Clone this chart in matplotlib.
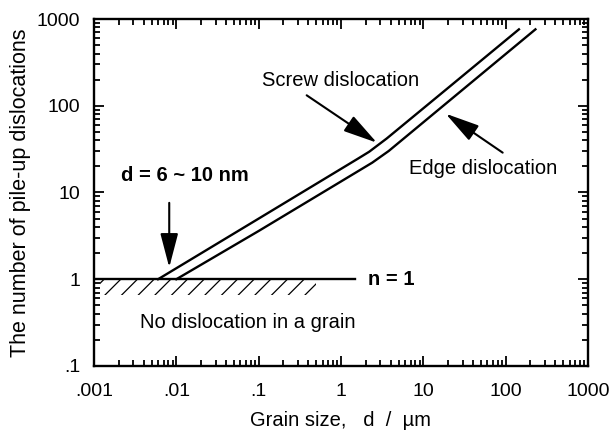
import numpy as np
import matplotlib
matplotlib.use("Agg")
import matplotlib.pyplot as plt
from matplotlib.ticker import FixedLocator, FixedFormatter, LogLocator, NullFormatter

plt.rcParams['font.family'] = ['Liberation Sans', 'DejaVu Sans']

# pile-up curves, grain size d (um) vs number of dislocations n
screw_d = [0.006, 0.1, 1.6, 2.2, 3.6, 18, 145]
screw_n = [1, 5.0, 24.5, 29.5, 42, 148, 760]
edge_d = [0.01, 0.1, 1.0, 2.4, 3.8, 230]
edge_n = [1, 3.6, 13.4, 22.1, 30.1, 760]

# n = 1 limit and the "no dislocation" band below it
limit_d = [0.001, 1.5]
limit_n = [1, 1]
band_d = [0.00118, 0.5]
band_lo = 0.65

xticks = [0.001, 0.01, 0.1, 1, 10, 100, 1000]
xlabels = ['.001', '.01', '.1', '1', '10', '100', '1000']
yticks = [0.1, 1, 10, 100, 1000]
ylabels = ['.1', '1', '10', '100', '1000']

fig = plt.figure(figsize=(6.1, 4.37), dpi=100)
ax = fig.add_axes([0.1541, 0.1625, 0.8098, 0.794])
ax.set_xscale('log')
ax.set_yscale('log')
ax.set_xlim(0.001, 1000)
ax.set_ylim(0.1, 1000)

lw = 1.7
ax.plot(screw_d, screw_n, color='black', lw=lw, solid_joinstyle='round')
ax.plot(edge_d, edge_n, color='black', lw=lw, solid_joinstyle='round')
ax.plot(limit_d, limit_n, color='black', lw=lw)

plt.rcParams['hatch.linewidth'] = 0.9
ax.fill_between(band_d, band_lo, 1, facecolor='none', edgecolor='black',
                hatch='//', linewidth=0)

head = dict(arrowstyle='-|>,head_length=2.1,head_width=0.55', mutation_scale=10,
            color='black', lw=1.5, shrinkA=0, shrinkB=0)

fs = 14.5
ax.annotate('', xy=(0.0082, 1.37), xytext=(0.0082, 7.6), arrowprops=head)
ax.text(0.0126, 15.5, 'd = 6 ~ 10 nm', fontsize=fs, fontweight='bold',
        ha='center', va='center')

ax.annotate('', xy=(2.73, 37.5), xytext=(0.383, 132), arrowprops=head)
ax.text(0.99, 197, 'Screw dislocation', fontsize=fs, ha='center', va='center')

ax.annotate('', xy=(18.7, 81), xytext=(92, 28.8), arrowprops=head)
ax.text(54, 18.8, 'Edge dislocation', fontsize=fs, ha='center', va='center')

ax.text(2.13, 1, 'n = 1', fontsize=fs, fontweight='bold', ha='left', va='center')
ax.text(0.0743, 0.317, 'No dislocation in a grain', fontsize=fs,
        ha='center', va='center')

ax.xaxis.set_major_locator(FixedLocator(xticks))
ax.xaxis.set_major_formatter(FixedFormatter(xlabels))
ax.yaxis.set_major_locator(FixedLocator(yticks))
ax.yaxis.set_major_formatter(FixedFormatter(ylabels))
for axis in (ax.xaxis, ax.yaxis):
    axis.set_minor_locator(LogLocator(base=10, subs=np.arange(2, 10)))
    axis.set_minor_formatter(NullFormatter())

ax.tick_params(which='both', direction='in', top=True, right=True, width=1.3,
               labelsize=14, color='black')
ax.tick_params(axis='x', which='major', length=7, pad=12)
ax.tick_params(axis='y', which='major', length=7, pad=10)
ax.tick_params(which='minor', length=4)
for s in ax.spines.values():
    s.set_linewidth(1.7)

ax.set_xlabel('Grain size,   d  /  \u00b5m', fontsize=14.5, labelpad=8)
ax.set_ylabel('The number of pile-up dislocations', fontsize=15.5, labelpad=4)

fig.savefig('out.png', dpi=100)
